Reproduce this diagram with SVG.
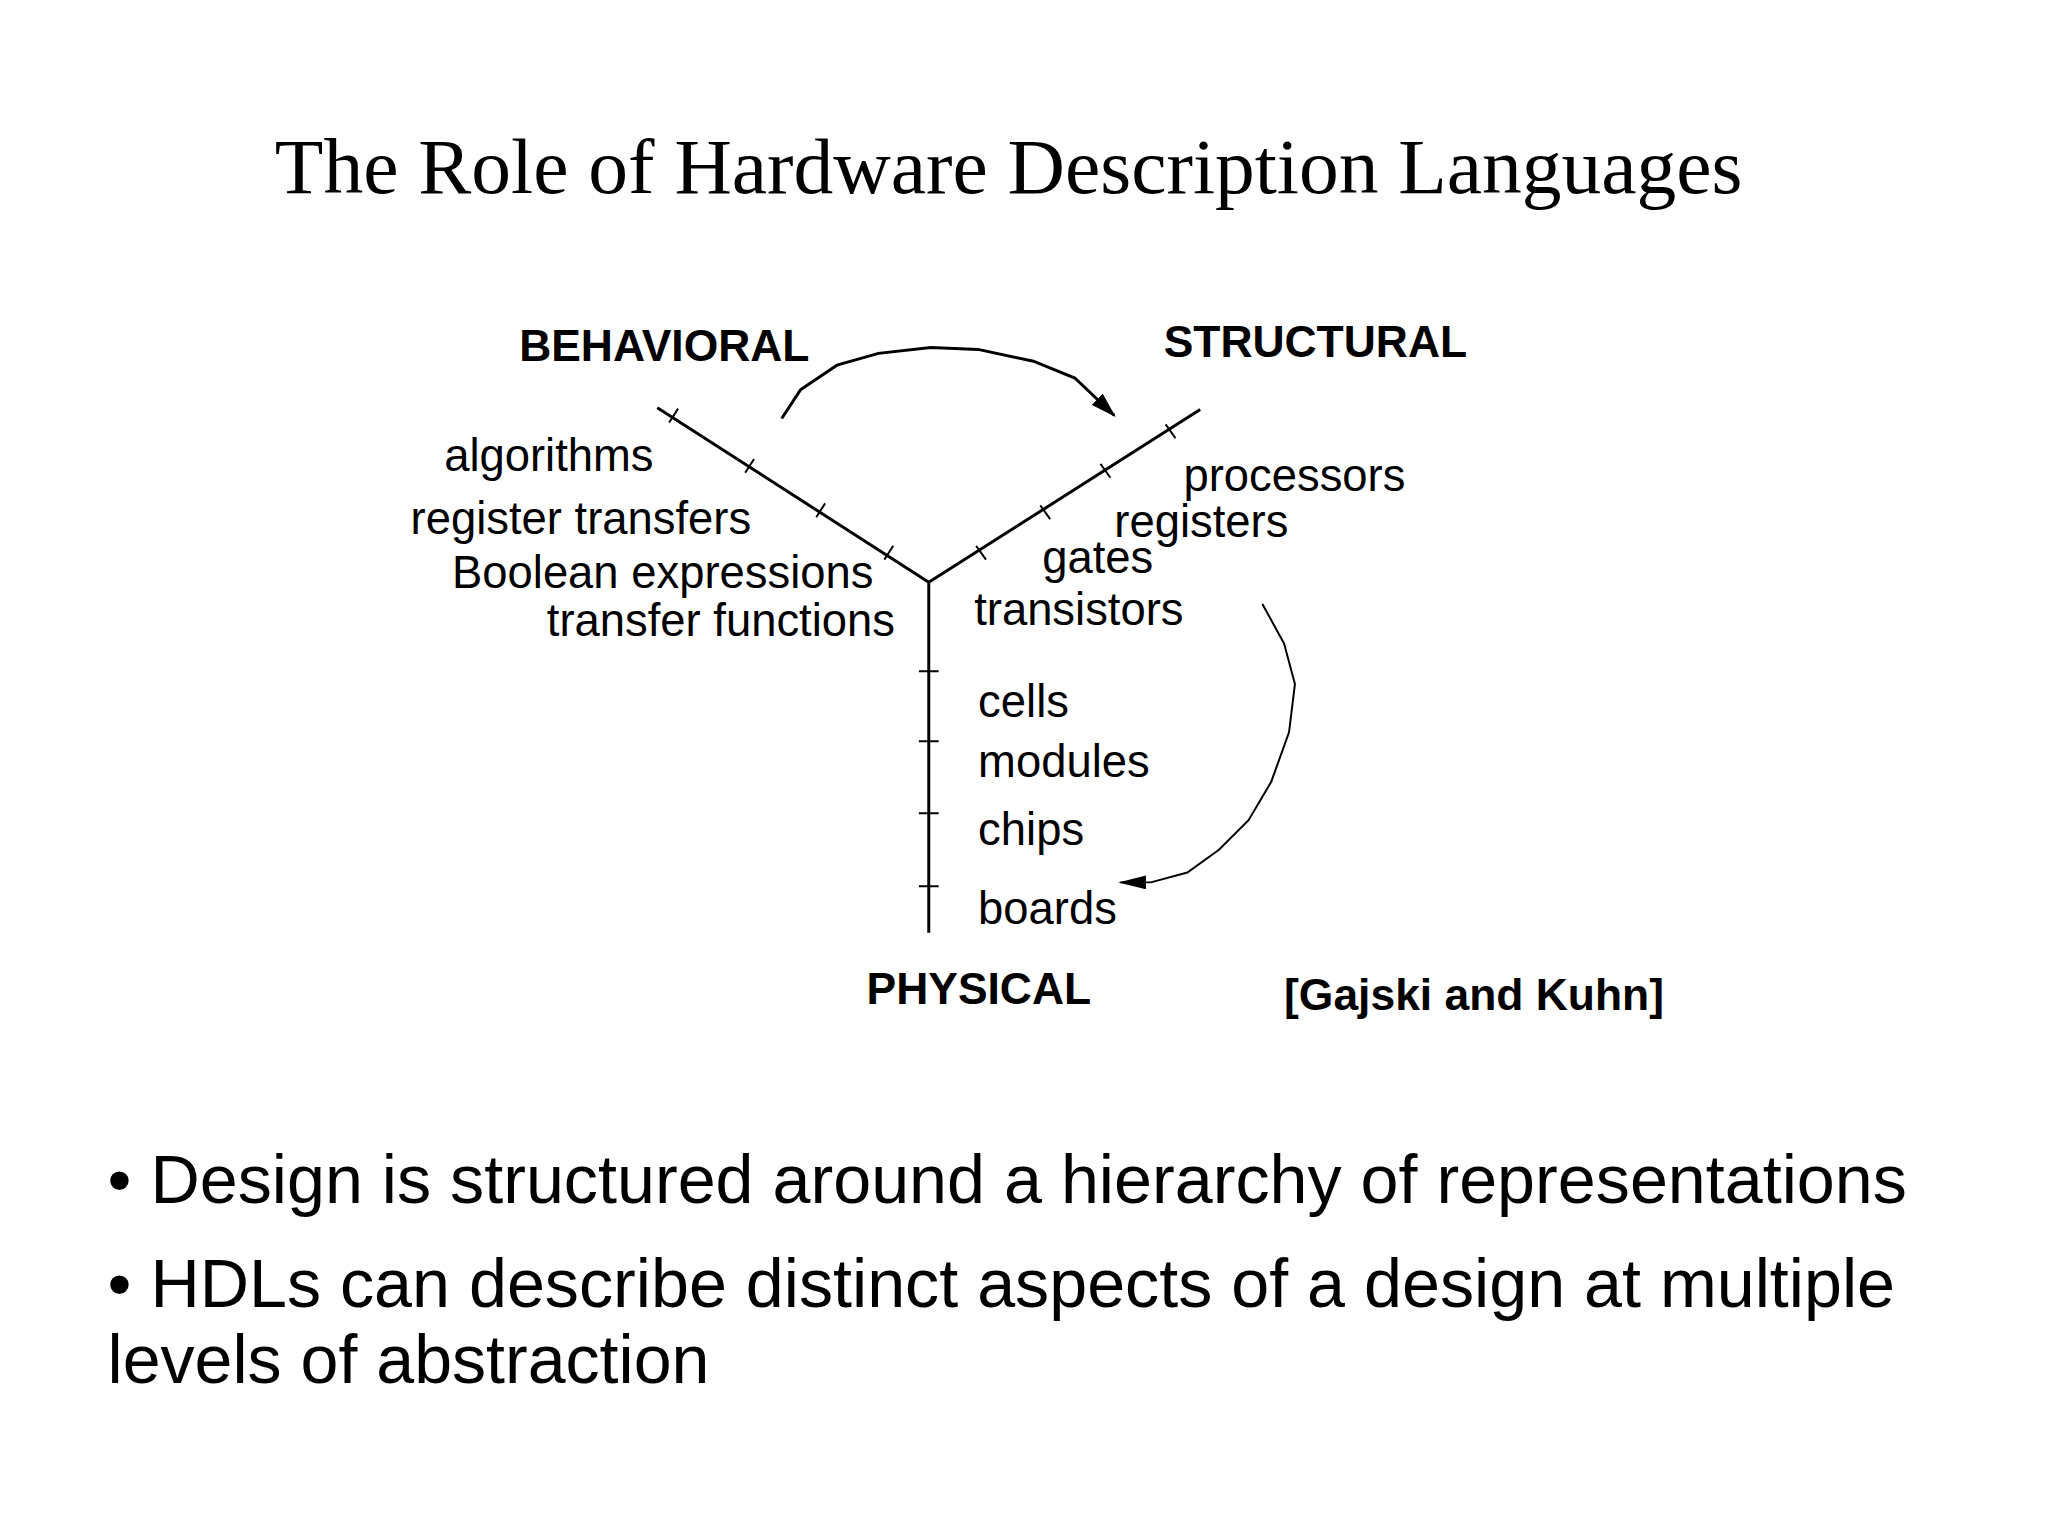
<svg xmlns="http://www.w3.org/2000/svg" width="2048" height="1536" viewBox="0 0 2048 1536">
<defs>
<marker id="ah" markerWidth="26" markerHeight="16" refX="24" refY="8" orient="auto" markerUnits="userSpaceOnUse"><path d="M0,0 L26,8 L0,16 Z" fill="#000"/></marker>
<marker id="ah2" markerWidth="28" markerHeight="14" refX="26" refY="7" orient="auto" markerUnits="userSpaceOnUse"><path d="M0,0 L28,7 L0,14 Z" fill="#000"/></marker>
</defs>
<style>
.l{font-family:"Liberation Sans",Arial,sans-serif;font-size:46px;fill:#000}
.b{font-family:"Liberation Sans",Arial,sans-serif;font-size:45px;font-weight:bold;fill:#000}
.p{font-family:"Liberation Sans",Arial,sans-serif;font-size:69px;fill:#000}
.ax{stroke:#000;stroke-width:3;fill:none}
.tk{stroke:#000;stroke-width:2;fill:none}
</style>
<rect width="2048" height="1536" fill="#fff"/>
<g transform="scale(0.987)">
<text x="1022" y="196" text-anchor="middle" font-family="'Liberation Serif','Times New Roman',serif" font-size="80" textLength="1487" lengthAdjust="spacingAndGlyphs">The Role of Hardware Description Languages</text>
<g id="axes">
<path class="ax" d="M666,413 L941,590 L1216,415 M941,590 L941,945"/>
<path class="tk" d="M678,428 L687,414 M755,479 L764,465 M827,524 L836,510 M896,567 L905,553 M1181,430 L1191,444 M1115,470 L1125,484 M1054,512 L1064,526 M989,553 L999,567 M931,680 L951,680 M931,751 L951,751 M931,824 L951,824 M931,898 L951,898"/>
</g>
<g id="connectors">
<path class="ax" stroke-width="2.5" d="M792,424 L811,395 L848,370 L890,358 L943,352 L991,354 L1047,366 L1089,383 L1129,421" marker-end="url(#ah)"/>
<path class="tk" d="M1279,612 L1301,652 L1312,693 L1306,742 L1288,792 L1265,831 L1235,861 L1203,884 L1166,894 L1135,894" marker-end="url(#ah2)"/>
</g>
<g id="labels">
<text class="b" x="526" y="366">BEHAVIORAL</text>
<text class="b" x="1179" y="362">STRUCTURAL</text>
<text class="b" x="878" y="1017">PHYSICAL</text>
<text class="b" x="1301" y="1023">[Gajski and Kuhn]</text>
<text class="l" x="450" y="477">algorithms</text>
<text class="l" x="416" y="541">register transfers</text>
<text class="l" x="458" y="596">Boolean expressions</text>
<text class="l" x="554" y="644">transfer functions</text>
<text class="l" x="1199" y="497">processors</text>
<text class="l" x="1129" y="544">registers</text>
<text class="l" x="1056" y="581">gates</text>
<text class="l" x="987" y="633">transistors</text>
<text class="l" x="991" y="726">cells</text>
<text class="l" x="991" y="787">modules</text>
<text class="l" x="991" y="856">chips</text>
<text class="l" x="991" y="936">boards</text>
</g>
<g id="bullets">
<text class="p" x="109" y="1219" textLength="1823" lengthAdjust="spacingAndGlyphs">• Design is structured around a hierarchy of representations</text>
<text class="p" x="109" y="1324" textLength="1811" lengthAdjust="spacingAndGlyphs">• HDLs can describe distinct aspects of a design at multiple</text>
<text class="p" x="109" y="1401">levels of abstraction</text>
</g>
</g>
</svg>
